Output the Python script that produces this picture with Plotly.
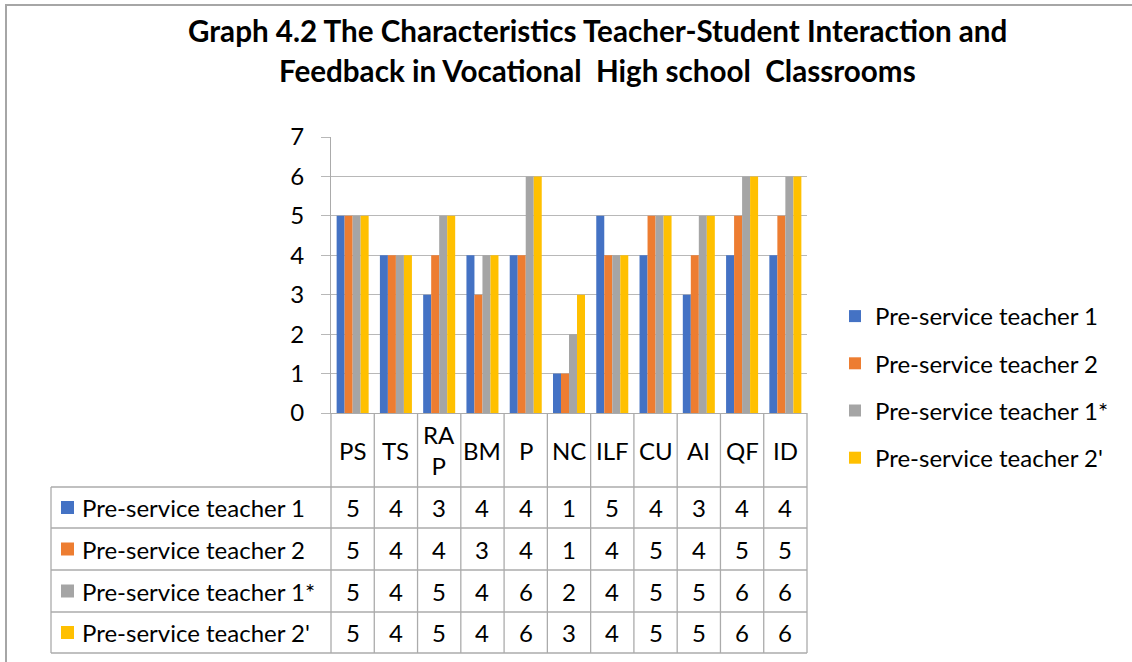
import plotly.graph_objects as go

# ---------------- data ----------------
categories = ["PS", "TS", "RAP", "BM", "P", "NC", "ILF", "CU", "AI", "QF", "ID"]
header_labels = ["PS", "TS", "RA<br>P", "BM", "P", "NC", "ILF", "CU", "AI", "QF", "ID"]
series_names = ["Pre-service teacher 1", "Pre-service teacher 2",
                "Pre-service teacher 1*", "Pre-service teacher 2'"]
teacher1 = [5, 4, 3, 4, 4, 1, 5, 4, 3, 4, 4]
teacher2 = [5, 4, 4, 3, 4, 1, 4, 5, 4, 5, 5]
teacher1_star = [5, 4, 5, 4, 6, 2, 4, 5, 5, 6, 6]
teacher2_prime = [5, 4, 5, 4, 6, 3, 4, 5, 5, 6, 6]
series_values = [teacher1, teacher2, teacher1_star, teacher2_prime]
colors = ["#4472C4", "#ED7D31", "#A5A5A5", "#FFC000"]
y_ticks = [0, 1, 2, 3, 4, 5, 6, 7]

title_lines = ["Graph 4.2 The Characteristics Teacher-Student Interaction and",
               "Feedback in Vocational\u00a0\u00a0High school\u00a0\u00a0Classrooms"]

# ---------------- layout geometry (screen pixels) ----------------
OFF = 0  # page body margin removed via post_script
FIG_W, FIG_H = 1132, 662
L, R, T, B = 331, 807, 137, 413
PW, PH = R - L, B - T
FONT = "Lato, Carlito, Calibri, sans-serif"
FS = 24
LINE_C = "#ABABAB"
GRID_C = "#B8B8B8"


def xp(px):
    return (px - L) / PW


def yp(py):
    return (B - py) / PH


n = len(categories)
row_edges = [487, 528, 570, 612, 653]
label_left = 51

fig = go.Figure()
for name, vals, col in zip(series_names, series_values, colors):
    fig.add_trace(go.Bar(x=categories, y=vals, name=name, marker_color=col,
                         marker_line_width=0, legendgroup=name))

shapes = []
# outer chart border
shapes.append(dict(type="rect", xref="paper", yref="paper",
                   x0=xp(6), x1=xp(1160), y0=yp(5), y1=yp(700),
                   line=dict(color="#A6A6A6", width=2), fillcolor="rgba(0,0,0,0)"))
# table vertical lines at category boundaries
for k in range(n + 1):
    shapes.append(dict(type="line", xref="paper", yref="paper",
                       x0=k / n, x1=k / n, y0=yp(B), y1=yp(row_edges[-1]),
                       line=dict(color=LINE_C, width=1.3)))
# label column left edge
shapes.append(dict(type="line", xref="paper", yref="paper",
                   x0=xp(label_left), x1=xp(label_left), y0=yp(row_edges[0]), y1=yp(row_edges[-1]),
                   line=dict(color=LINE_C, width=1.3)))
# horizontal row lines
for e in row_edges:
    shapes.append(dict(type="line", xref="paper", yref="paper",
                       x0=xp(label_left), x1=1, y0=yp(e), y1=yp(e),
                       line=dict(color=LINE_C, width=1.3)))

annotations = []
# title
for i, line in enumerate(title_lines):
    annotations.append(dict(text="<b>" + line + "</b>", xref="paper", yref="paper",
                            x=xp(597), y=yp(30 + 40 * i), xanchor="center", yanchor="middle",
                            showarrow=False, font=dict(family=FONT, size=29.6, color="#000000")))
# header labels
for i, lab in enumerate(header_labels):
    annotations.append(dict(text=lab, xref="x", yref="paper", x=categories[i],
                            y=yp((B + row_edges[0]) / 2), xanchor="center", yanchor="middle",
                            showarrow=False, font=dict(family=FONT, size=FS, color="#000000")))
# table rows
for s, (name, vals, col) in enumerate(zip(series_names, series_values, colors)):
    top, bot = row_edges[s], row_edges[s + 1]
    cy = (top + bot) / 2
    shapes.append(dict(type="rect", xref="paper", yref="paper",
                       x0=xp(61), x1=xp(74), y0=yp(cy - 6.5), y1=yp(cy + 6.5),
                       fillcolor=col, line=dict(width=0)))
    annotations.append(dict(text=name, xref="paper", yref="paper", x=xp(80), y=yp(cy),
                            xanchor="left", yanchor="middle", showarrow=False,
                            font=dict(family=FONT, size=FS, color="#000000")))
    for i, v in enumerate(vals):
        annotations.append(dict(text=str(v), xref="x", yref="paper", x=categories[i], y=yp(cy),
                                xanchor="center", yanchor="middle", showarrow=False,
                                font=dict(family=FONT, size=FS, color="#000000")))

fig.update_layout(
    width=FIG_W, height=FIG_H, autosize=False,
    margin=dict(l=L - OFF, r=FIG_W - R + OFF, t=T - OFF, b=FIG_H - B + OFF, pad=0),
    paper_bgcolor="white", plot_bgcolor="white",
    barmode="group", bargap=0.26, bargroupgap=0,
    font=dict(family=FONT, size=FS, color="#000000"),
    showlegend=True,
    legend=dict(x=xp(835), y=yp(387), xanchor="left", yanchor="middle",
                font=dict(family=FONT, size=FS, color="#000000"),
                tracegroupgap=13, itemwidth=30, bgcolor="rgba(0,0,0,0)"),
    xaxis=dict(range=[-0.5, n - 0.5], showticklabels=False, showgrid=False,
               showline=True, linecolor=LINE_C, linewidth=1.3, ticks="", zeroline=False,
               fixedrange=True),
    yaxis=dict(range=[0, 7], tickvals=y_ticks, showgrid=True, gridcolor=GRID_C, gridwidth=1.2,
               showline=True, linecolor=LINE_C, linewidth=1.3, ticks="outside", ticklen=9,
               tickcolor=GRID_C, tickwidth=1.2, ticklabelstandoff=12, zeroline=False,
               tickfont=dict(family=FONT, size=FS, color="#000000"), fixedrange=True),
    shapes=shapes, annotations=annotations,
)

fig.write_html("out.html", config={"displayModeBar": False},
               post_script="document.body.style.margin='0';document.body.style.overflow='hidden';")
